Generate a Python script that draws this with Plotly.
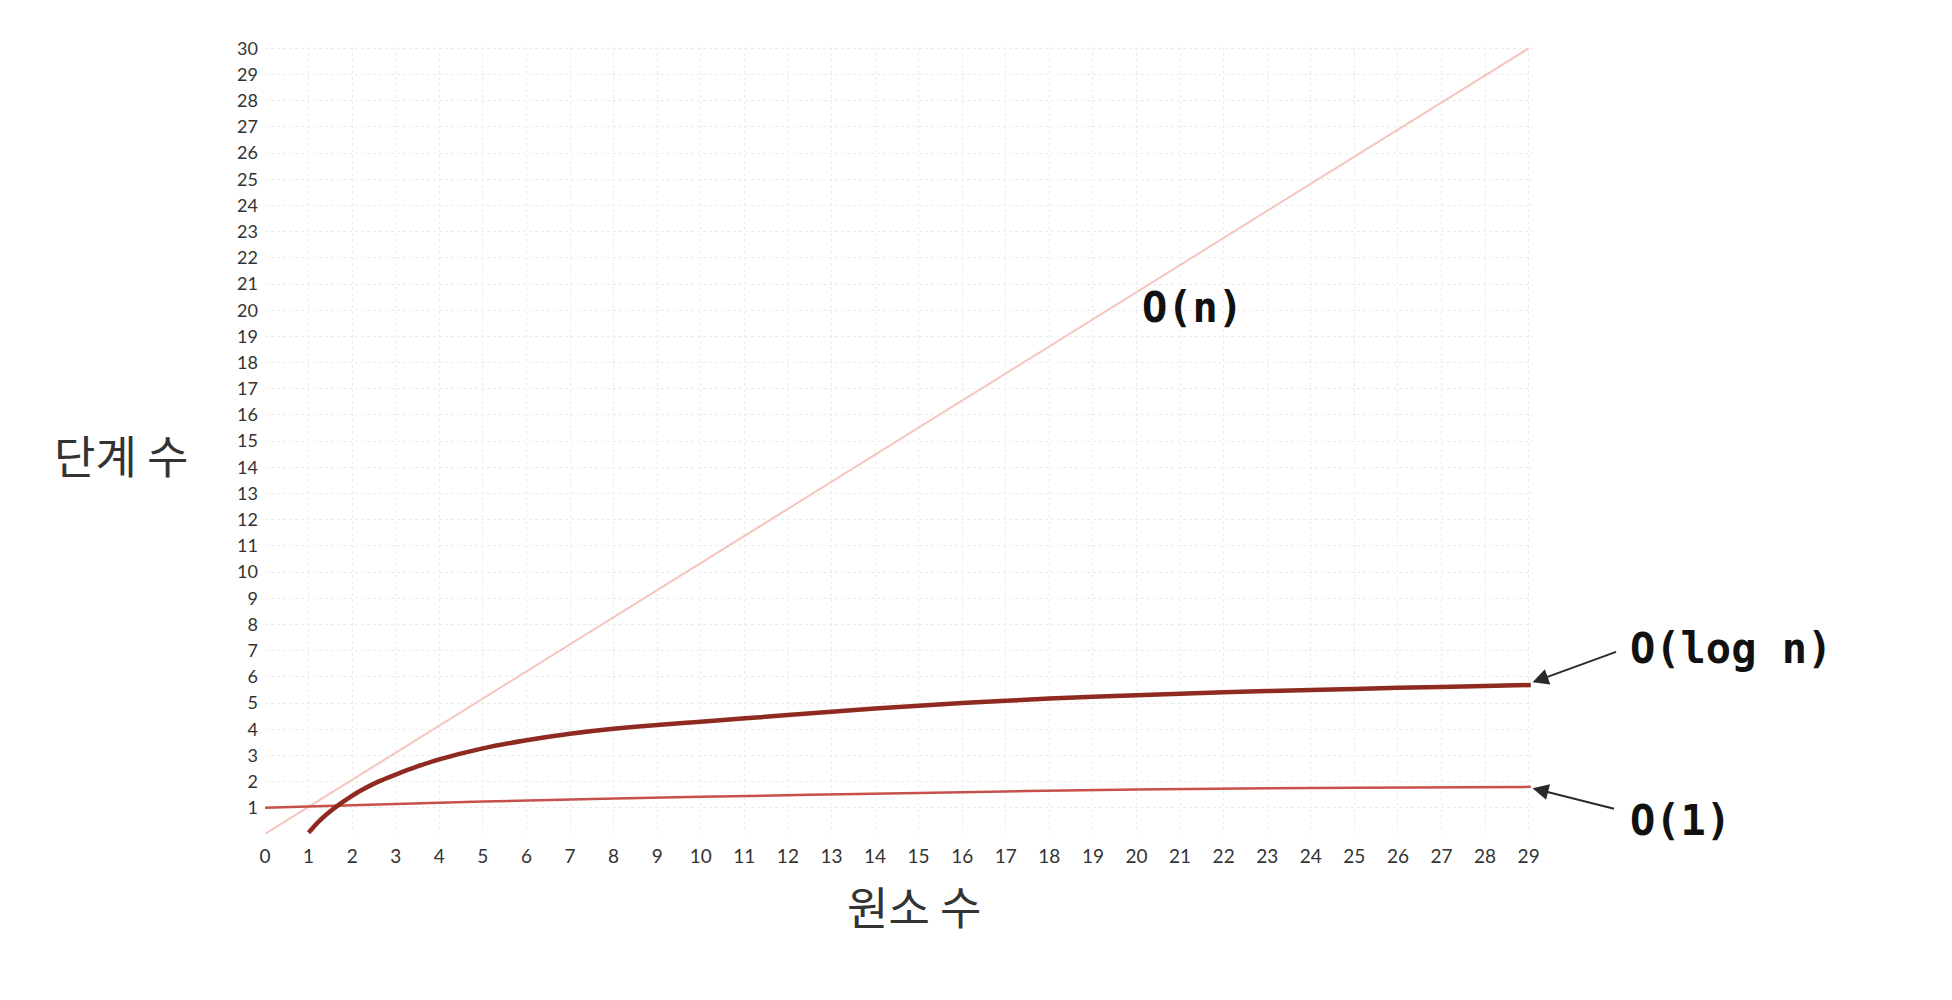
import plotly.graph_objects as go

# ---- data ----
x_ticks = list(range(0, 30))          # 원소 수 tick labels 0..29
y_ticks = list(range(1, 31))          # 단계 수 tick labels 1..30

on_x = [0, 29]                         # O(n)
on_y = [0, 30]

logn_x = [1.0, 1.1, 1.2, 1.35, 1.5, 1.7, 1.9, 2.2, 2.6, 3, 3.5, 4, 5, 6, 7, 8, 9, 10, 12, 14, 16, 18, 20, 22, 24, 26, 28, 29.05]
logn_y = [0.05, 0.24, 0.42, 0.66, 0.87, 1.12, 1.35, 1.66, 2.00, 2.27, 2.58, 2.85, 3.27, 3.58, 3.83, 4.02, 4.16, 4.29, 4.54, 4.79, 5.00, 5.17, 5.30, 5.41, 5.50, 5.58, 5.65, 5.69]

o1_x = [0, 5, 10, 15, 20, 25, 29.05]   # O(1)
o1_y = [1.00, 1.24, 1.42, 1.57, 1.70, 1.77, 1.80]

labels = {"n": "O(n)", "logn": "O(log n)", "one": "O(1)"}
x_title = "원소 수"
y_title = "단계 수"

# ---- figure ----
fig = go.Figure()
fig.add_trace(go.Scatter(x=on_x, y=on_y, mode="lines",
                         line=dict(color="#f5c4bd", width=2), hoverinfo="skip"))
fig.add_trace(go.Scatter(x=o1_x, y=o1_y, mode="lines",
                         line=dict(color="#c8504a", width=2.5, shape="spline", smoothing=0.8),
                         hoverinfo="skip"))
fig.add_trace(go.Scatter(x=logn_x, y=logn_y, mode="lines",
                         line=dict(color="#8e2a20", width=4.5, shape="spline", smoothing=0.6),
                         hoverinfo="skip"))

mono = dict(family="DejaVu Sans Mono", size=42, color="#111111", weight="bold")
cjk = dict(family="Noto Sans CJK KR", size=45, color="#333333")

annotations = [
    dict(x=21.29, y=20.12, xref="x", yref="y", text=labels["n"], showarrow=False,
         font=mono, xanchor="center", yanchor="middle"),
    dict(x=(1628 - 265) / 1268, y=(834 - 648) / 787, xref="paper", yref="paper",
         text=labels["logn"], showarrow=False, font=mono, xanchor="left", yanchor="middle"),
    dict(x=(1628 - 265) / 1268, y=(834 - 820) / 787, xref="paper", yref="paper",
         text=labels["one"], showarrow=False, font=mono, xanchor="left", yanchor="middle"),
    # arrows
    dict(x=29.09, y=5.79, xref="x", yref="y", text="", showarrow=True,
         ax=85, ay=-31, arrowhead=2, arrowsize=1.6, arrowwidth=2, arrowcolor="#2a2a2a", standoff=0),
    dict(x=29.09, y=1.75, xref="x", yref="y", text="", showarrow=True,
         ax=83, ay=21, arrowhead=2, arrowsize=1.6, arrowwidth=2, arrowcolor="#2a2a2a", standoff=0),
    # axis titles (horizontal)
    dict(x=(121 - 265) / 1268, y=14.5, xref="paper", yref="y", text=y_title, showarrow=False,
         font=cjk, xanchor="center", yanchor="middle"),
    dict(x=(914 - 265) / 1268, y=-(906 - 834) / 787, xref="paper", yref="paper", text=x_title,
         showarrow=False, font=cjk, xanchor="center", yanchor="middle"),
]

fig.update_layout(
    width=1936, height=984,
    margin=dict(l=257, r=411, t=39, b=158, pad=0),
    paper_bgcolor="white", plot_bgcolor="white",
    showlegend=False,
    annotations=annotations,
)
fig.update_xaxes(range=[0, 29.1], tickmode="array", tickvals=x_ticks,
                 ticktext=[str(v) for v in x_ticks],
                 showgrid=True, gridcolor="#ececec", griddash="dot", gridwidth=1,
                 zeroline=False, showline=False, ticks="", ticklabelstandoff=9,
                 tickfont=dict(family="Lato", size=19, color="#333333"))
fig.update_yaxes(range=[0, 30.05], tickmode="array", tickvals=y_ticks,
                 ticktext=[str(v) for v in y_ticks],
                 showgrid=True, gridcolor="#ececec", griddash="dot", gridwidth=1,
                 zeroline=False, showline=False, ticks="", ticklabelstandoff=6,
                 tickfont=dict(family="Lato", size=18, color="#333333"))

fig.write_html("out.html")
